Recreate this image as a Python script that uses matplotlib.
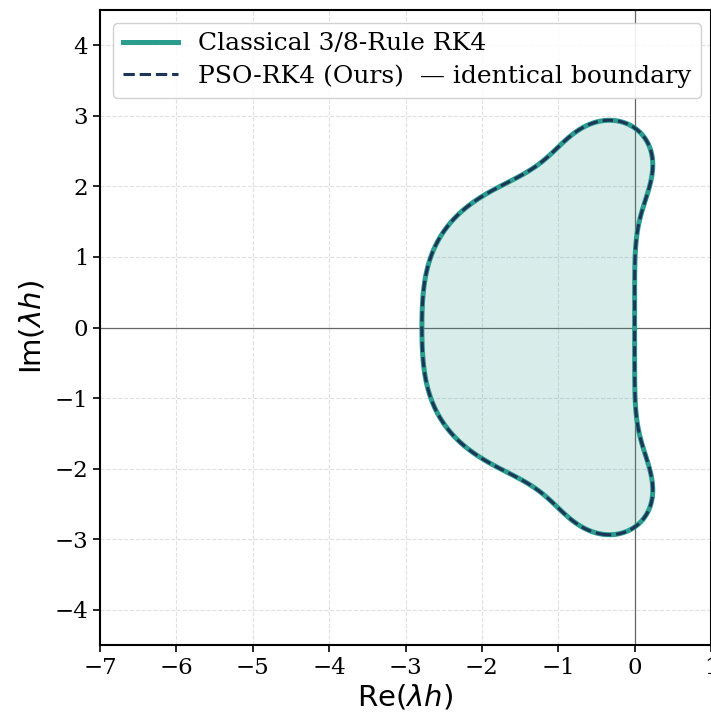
import numpy as np
import matplotlib
matplotlib.use("Agg")
import matplotlib.pyplot as plt
from matplotlib.lines import Line2D

plt.rcParams['font.family'] = ['DejaVu Serif']
plt.rcParams['mathtext.fontset'] = 'dejavusans'

# Stability polynomial coefficients R(z) = sum c_k z^k (both methods identical)
classical_coeffs = [1.0, 1.0, 1/2, 1/6, 1/24]
pso_coeffs = [1.0, 1.0, 1/2, 1/6, 1/24]
labels = ["Classical 3/8-Rule RK4", "PSO-RK4 (Ours)  \u2014 identical boundary"]
xticks = [-7, -6, -5, -4, -3, -2, -1, 0, 1]
yticks = [-4, -3, -2, -1, 0, 1, 2, 3, 4]

teal = "#2a9d8f"
navy = "#1d3557"

fig = plt.figure(figsize=(7.11, 7.16), dpi=100)
ax = fig.add_axes([100/711, 1 - 645/716, 611/711, 635/716])

x = np.linspace(-7, 1, 1601)
y = np.linspace(-4.5, 4.5, 1801)
X, Y = np.meshgrid(x, y)
Z = X + 1j * Y

def R(coeffs):
    out = np.zeros_like(Z)
    for k, c in enumerate(coeffs):
        out = out + c * Z**k
    return np.abs(out)

A = R(classical_coeffs)
B = R(pso_coeffs)

ax.grid(True, linestyle='--', color='#cccccc', alpha=0.6, linewidth=0.8)
ax.set_axisbelow(True)
ax.axhline(0, color='#666666', linewidth=0.9, zorder=1)
ax.axvline(0, color='#666666', linewidth=0.9, zorder=1)

ax.contourf(X, Y, A, levels=[0, 1], colors=[teal], alpha=0.18, zorder=2)
ax.contour(X, Y, A, levels=[1], colors=[teal], linewidths=3.6, zorder=3)
ax.contour(X, Y, B, levels=[1], colors=[navy], linewidths=2.2,
           linestyles=[(0, (3.4, 1.6))], zorder=4)

ax.set_xlim(-7, 1)
ax.set_ylim(-4.5, 4.5)
ax.set_xticks(xticks)
ax.set_yticks(yticks)
ax.tick_params(labelsize=16.5, width=1.2, length=5)
for s in ax.spines.values():
    s.set_linewidth(1.5)

ax.set_xlabel(r'$\mathrm{Re}(\lambda h)$', fontsize=21, labelpad=3)
ax.set_ylabel(r'$\mathrm{Im}(\lambda h)$', fontsize=21, labelpad=6)

handles = [Line2D([], [], color=teal, linewidth=3.6),
           Line2D([], [], color=navy, linewidth=2.2, linestyle='--')]
ax.legend(handles, labels, loc='upper left', fontsize=18, framealpha=0.9,
          handlelength=2.2, borderaxespad=0.5, labelspacing=0.35)

fig.savefig("out.png", dpi=100)
